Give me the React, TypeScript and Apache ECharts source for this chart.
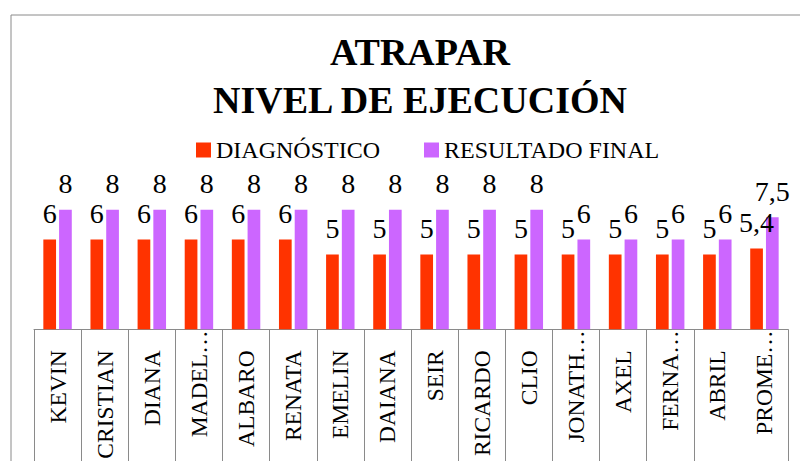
import React, { useEffect, useRef } from "react";
import * as echarts from "echarts";

const categories = [
  "KEVIN", "CRISTIAN", "DIANA", "MADEL…", "ALBARO", "RENATA", "EMELIN", "DAIANA",
  "SEIR", "RICARDO", "CLIO", "JONATH…", "AXEL", "FERNA…", "ABRIL", "PROME…",
];
const truncated = ["MADEL…", "JONATH…", "FERNA…", "PROME…"];
const diagnostico = [6, 6, 6, 6, 6, 6, 5, 5, 5, 5, 5, 5, 5, 5, 5, 5.4];
const resultadoFinal = [8, 8, 8, 8, 8, 8, 8, 8, 8, 8, 8, 6, 6, 6, 6, 7.5];
const seriesNames = ["DIAGNÓSTICO", "RESULTADO FINAL"];
const titleText = "ATRAPAR\nNIVEL DE EJECUCIÓN";

const FONT = "Liberation Serif";
const fmt = (p: any) => String(p.value).replace(".", ",");

export default function App() {
  const ref = useRef<HTMLDivElement>(null);
  useEffect(() => {
    if (!ref.current) return;
    const chart = echarts.init(ref.current, null, { renderer: "svg" });
    const labelCommon = {
      show: true,
      position: "top",
      distance: 12,
      fontFamily: FONT,
      fontSize: 28,
      color: "#000",
      formatter: fmt,
    };
    const legendText = { fontFamily: FONT, fontSize: 24, color: "#000", fontWeight: "normal" };
    chart.setOption({
      animation: false,
      backgroundColor: "#fff",
      textStyle: { fontFamily: FONT },
      title: {
        text: titleText,
        left: "center",
        top: 28,
        padding: 0,
        textStyle: {
          fontFamily: FONT,
          fontWeight: "bold",
          fontSize: 38,
          lineHeight: 48,
          color: "#000",
        },
      },
      legend: {
        left: 196,
        top: 138,
        padding: 0,
        itemWidth: 15,
        itemHeight: 15,
        itemGap: 44,
        icon: "rect",
        textStyle: legendText,
        data: seriesNames.map((n) => ({ name: n, textStyle: legendText })),
      },
      graphic: [
        {
          type: "rect",
          shape: { x: 11, y: 15, width: 900, height: 600 },
          style: { fill: "none", stroke: "#8a8a8a", lineWidth: 1 },
          silent: true,
        },
      ],
      grid: {
        left: 34,
        right: 52,
        top: 179.8,
        bottom: 131.7,
        containLabel: false,
        outerBoundsMode: "none",
      },
      xAxis: {
        type: "category",
        data: categories.map((c) =>
          truncated.includes(c) ? { value: c, textStyle: { padding: [0, 0, 0, 0] } } : c
        ),
        axisLine: { show: true, lineStyle: { color: "#8a8a8a", width: 1 } },
        axisTick: {
          show: true,
          length: 150,
          interval: (i: number) => i !== 15,
          lineStyle: { color: "#8a8a8a", width: 1 },
        },
        axisLabel: {
          interval: 0,
          rotate: 90,
          margin: 1,
          padding: [0, 20, 0, 0],
          fontFamily: FONT,
          fontSize: 23.5,
          color: "#000",
        },
      },
      yAxis: { type: "value", min: 0, max: 10, show: false, splitLine: { show: false } },
      series: [
        {
          name: seriesNames[0],
          type: "bar",
          data: diagnostico,
          barWidth: 12.7,
          barGap: "24%",
          itemStyle: { color: "#FF3300" },
          label: labelCommon,
        },
        {
          name: seriesNames[1],
          type: "bar",
          data: resultadoFinal,
          barWidth: 12.7,
          itemStyle: { color: "#CC66FF" },
          label: labelCommon,
        },
      ],
    });
    return () => chart.dispose();
  }, []);
  return (
    <div style={{ position: "absolute", left: 0, top: 0, width: 800, height: 461, overflow: "hidden" }}>
      <div ref={ref} style={{ width: 840, height: 461 }} />
    </div>
  );
}
